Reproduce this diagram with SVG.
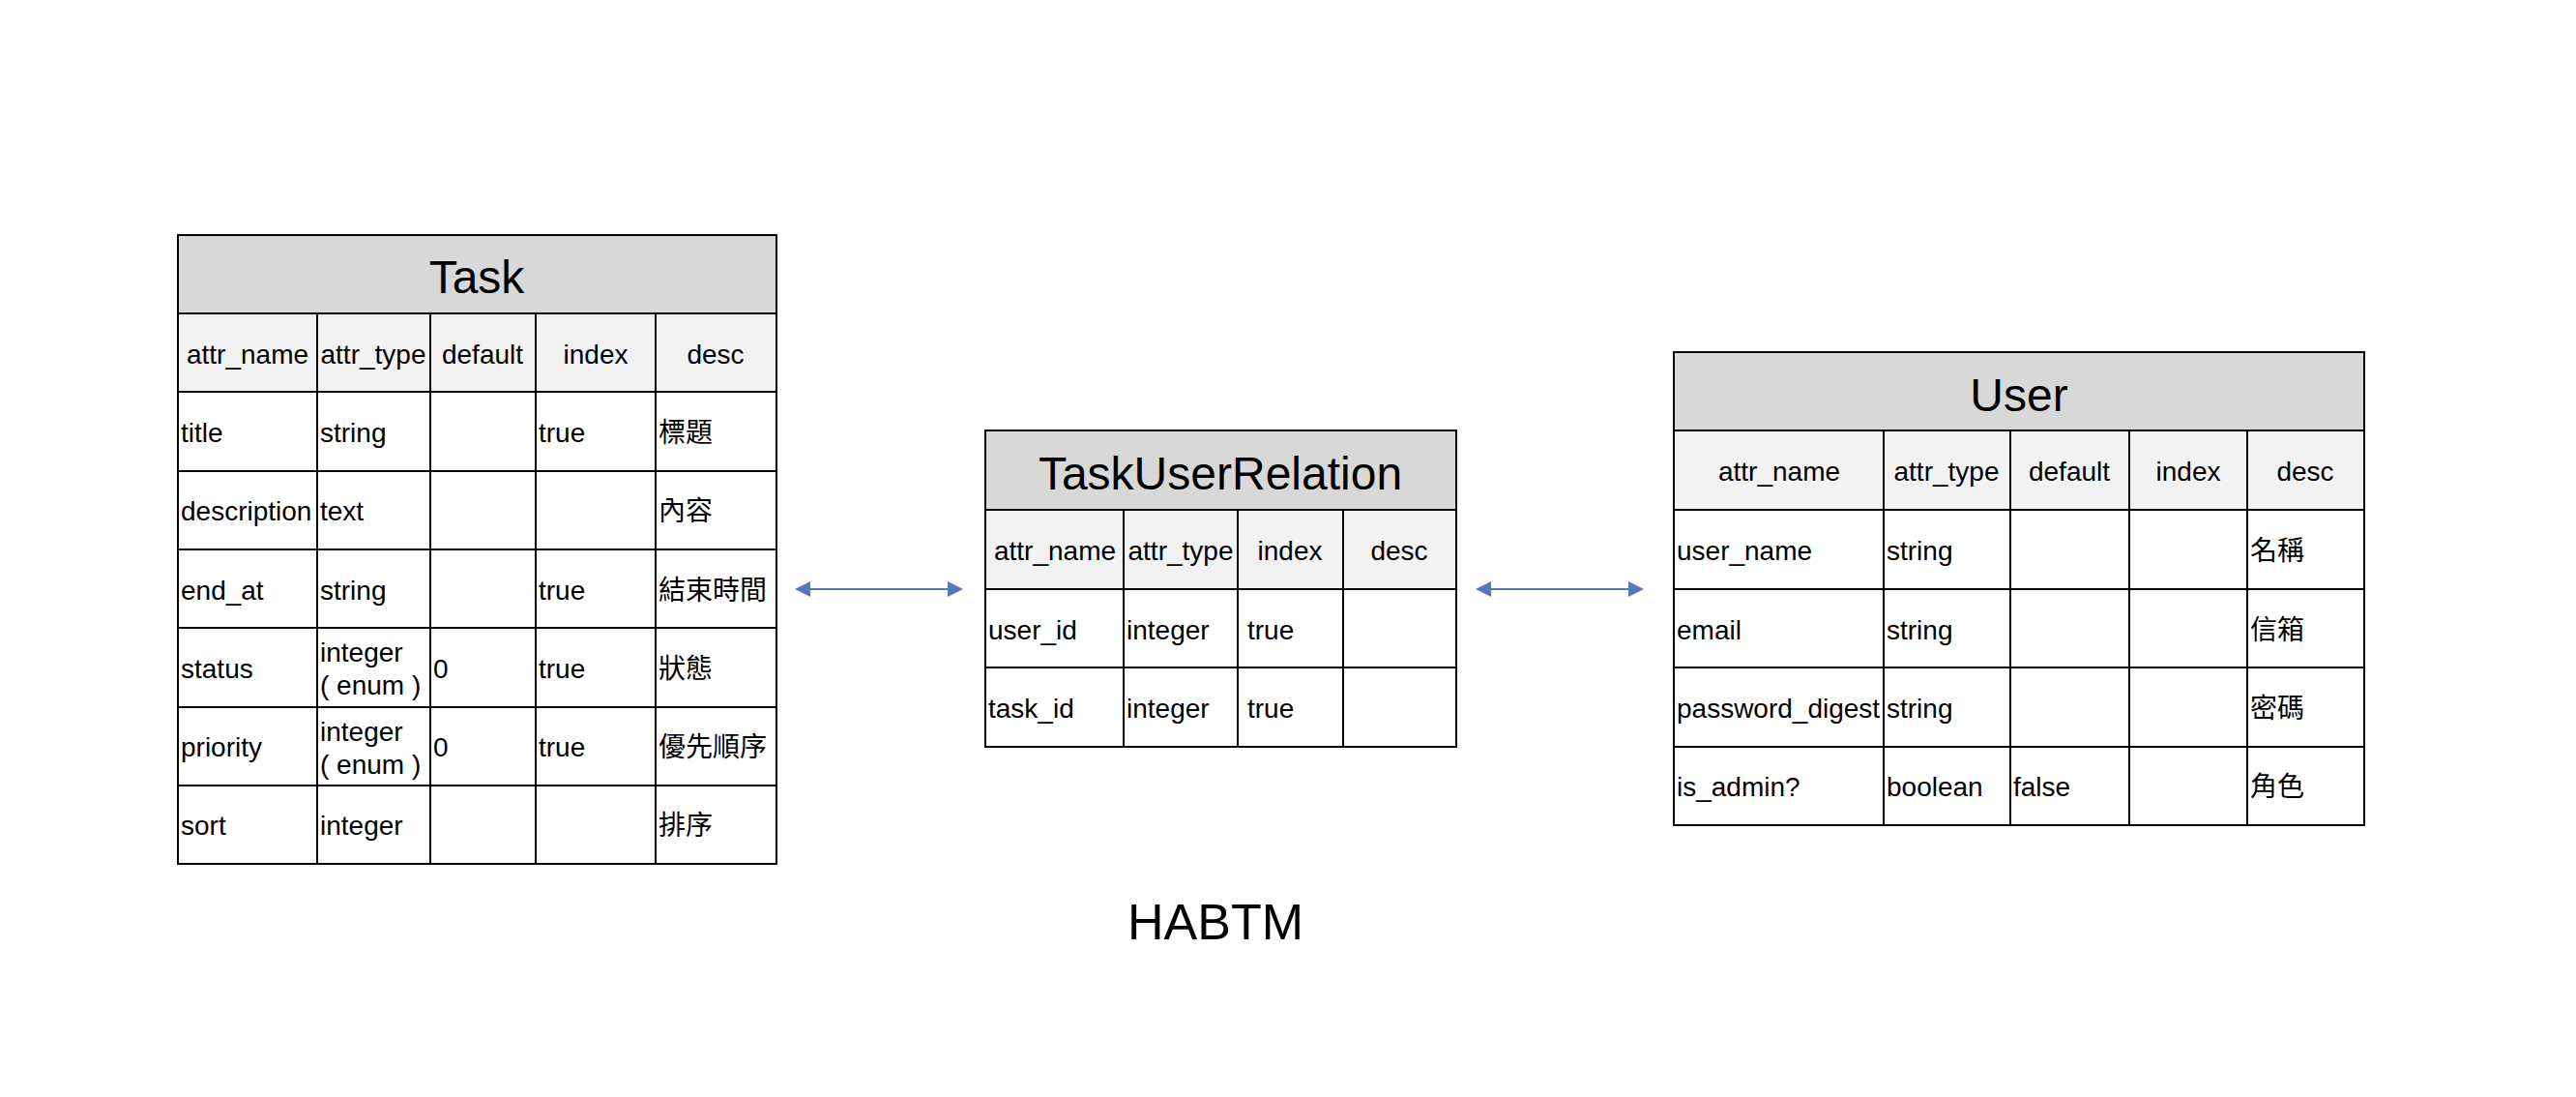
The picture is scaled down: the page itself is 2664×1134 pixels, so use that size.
<svg xmlns="http://www.w3.org/2000/svg" width="2664" height="1134" viewBox="0 0 2664 1134">
<defs>
<style>
text{font-family:"Liberation Sans","Noto Sans CJK TC",sans-serif;fill:#000}
.ttl{font-size:48px;text-anchor:middle}
.hd{font-size:28px;text-anchor:middle}
.c{font-size:28px}
.big{font-size:52px;text-anchor:middle}
.tfill{fill:#d8d8d8}
.hfill{fill:#f2f2f2}
.grid{stroke:#000;stroke-width:2;fill:none}
.conn{stroke:#5575bd;stroke-width:2;fill:none}
</style>
<marker id="ah" viewBox="0 0 16 16" refX="8" refY="8" markerWidth="16" markerHeight="16" markerUnits="userSpaceOnUse" orient="auto-start-reverse">
<path d="M0,0 L16,8 L0,16 z" fill="#5575bd"/>
</marker>
</defs>
<rect width="2664" height="1134" fill="#fff"/>

<g id="task">
<rect class="tfill" x="184" y="243" width="619" height="81"/>
<rect class="hfill" x="184" y="324" width="619" height="81"/>
<rect class="grid" x="184" y="243" width="619" height="650"/>
<path class="grid" d="M184,324H803M184,405H803M184,487H803M184,568H803M184,649H803M184,731H803M184,812H803M328,324V893M445,324V893M554,324V893M678,324V893"/>
<text class="ttl" x="493" y="303">Task</text>
<text class="hd" x="256" y="376">attr_name</text>
<text class="hd" x="386" y="376">attr_type</text>
<text class="hd" x="499" y="376">default</text>
<text class="hd" x="616" y="376">index</text>
<text class="hd" x="740" y="376">desc</text>
<text class="c" x="187" y="457">title</text>
<text class="c" x="331" y="457">string</text>
<text class="c" x="557" y="457">true</text>
<text class="c" x="681" y="457">標題</text>
<text class="c" x="187" y="538">description</text>
<text class="c" x="331" y="538">text</text>
<text class="c" x="681" y="538">內容</text>
<text class="c" x="187" y="620">end_at</text>
<text class="c" x="331" y="620">string</text>
<text class="c" x="557" y="620">true</text>
<text class="c" x="681" y="620">結束時間</text>
<text class="c" x="187" y="701">status</text>
<text class="c" x="331" y="684">integer</text>
<text class="c" x="331" y="718">( enum )</text>
<text class="c" x="448" y="701">0</text>
<text class="c" x="557" y="701">true</text>
<text class="c" x="681" y="701">狀態</text>
<text class="c" x="187" y="782">priority</text>
<text class="c" x="331" y="766">integer</text>
<text class="c" x="331" y="800">( enum )</text>
<text class="c" x="448" y="782">0</text>
<text class="c" x="557" y="782">true</text>
<text class="c" x="681" y="782">優先順序</text>
<text class="c" x="187" y="863">sort</text>
<text class="c" x="331" y="863">integer</text>
<text class="c" x="681" y="863">排序</text>
</g>

<g id="task_user_relation">
<rect class="tfill" x="1019" y="445" width="487" height="82"/>
<rect class="hfill" x="1019" y="527" width="487" height="82"/>
<rect class="grid" x="1019" y="445" width="487" height="327"/>
<path class="grid" d="M1019,527H1506M1019,609H1506M1019,690H1506M1162,527V772M1280,527V772M1389,527V772"/>
<text class="ttl" x="1262" y="506">TaskUserRelation</text>
<text class="hd" x="1091" y="579">attr_name</text>
<text class="hd" x="1221" y="579">attr_type</text>
<text class="hd" x="1334" y="579">index</text>
<text class="hd" x="1447" y="579">desc</text>
<text class="c" x="1022" y="661">user_id</text>
<text class="c" x="1165" y="661">integer</text>
<text class="c" x="1290" y="661">true</text>
<text class="c" x="1022" y="742">task_id</text>
<text class="c" x="1165" y="742">integer</text>
<text class="c" x="1290" y="742">true</text>
</g>

<g id="user">
<rect class="tfill" x="1731" y="364" width="714" height="81"/>
<rect class="hfill" x="1731" y="445" width="714" height="82"/>
<rect class="grid" x="1731" y="364" width="714" height="489"/>
<path class="grid" d="M1731,445H2445M1731,527H2445M1731,609H2445M1731,690H2445M1731,772H2445M1948,445V853M2079,445V853M2202,445V853M2324,445V853"/>
<text class="ttl" x="2088" y="425">User</text>
<text class="hd" x="1840" y="497">attr_name</text>
<text class="hd" x="2013" y="497">attr_type</text>
<text class="hd" x="2140" y="497">default</text>
<text class="hd" x="2263" y="497">index</text>
<text class="hd" x="2384" y="497">desc</text>
<text class="c" x="1734" y="579">user_name</text>
<text class="c" x="1951" y="579">string</text>
<text class="c" x="2327" y="579">名稱</text>
<text class="c" x="1734" y="661">email</text>
<text class="c" x="1951" y="661">string</text>
<text class="c" x="2327" y="661">信箱</text>
<text class="c" x="1734" y="742">password_digest</text>
<text class="c" x="1951" y="742">string</text>
<text class="c" x="2327" y="742">密碼</text>
<text class="c" x="1734" y="823">is_admin?</text>
<text class="c" x="1951" y="823">boolean</text>
<text class="c" x="2082" y="823">false</text>
<text class="c" x="2327" y="823">角色</text>
</g>

<g id="connectors">
<path class="conn" d="M830,609H988" marker-start="url(#ah)" marker-end="url(#ah)"/>
<path class="conn" d="M1534,609H1692" marker-start="url(#ah)" marker-end="url(#ah)"/>
</g>

<g id="label">
<text class="big" x="1257" y="971">HABTM</text>
</g>
</svg>
